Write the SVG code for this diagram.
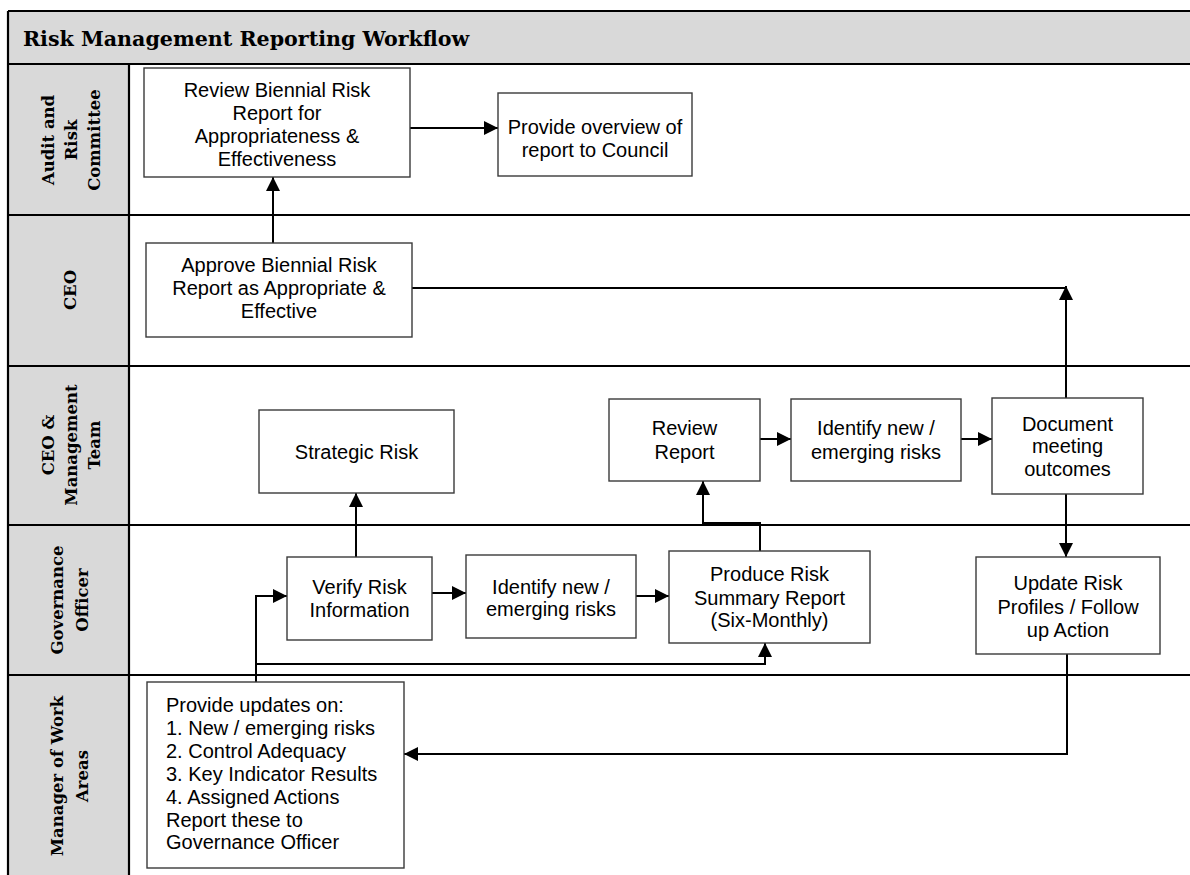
<svg xmlns="http://www.w3.org/2000/svg" width="1190" height="875" viewBox="0 0 1190 875">
<defs>
<style>
.lane{stroke:#000;stroke-width:2.2;fill:none}
.hdr{fill:#d9d9d9}
.lbl{font-family:"DejaVu Serif","Liberation Serif",serif;font-weight:bold;font-size:16.5px;fill:#000;text-anchor:middle}
.title{font-family:"DejaVu Serif","Liberation Serif",serif;font-weight:bold;font-size:20.6px;fill:#000}
.box{fill:#fff;stroke:#3a3a3a;stroke-width:1.4}
.t{font-family:"Liberation Sans",Arial,sans-serif;font-size:20px;fill:#000;text-anchor:middle}
.tl{font-family:"Liberation Sans",Arial,sans-serif;font-size:20px;fill:#000}
.c{stroke:#000;stroke-width:2;fill:none}
.ca{stroke:#000;stroke-width:2;fill:none;marker-end:url(#ah)}
</style>
<marker id="ah" markerUnits="userSpaceOnUse" markerWidth="15" markerHeight="15" refX="14" refY="7" orient="auto">
<path d="M0,0 L14,7 L0,14 z" fill="#000"/>
</marker>
</defs>

<g id="frame">
<rect class="hdr" x="8" y="11" width="1182" height="53"/>
<rect class="hdr" x="8" y="64" width="121" height="811"/>
<text class="title" x="23" y="46">Risk Management Reporting Workflow</text>
<path class="lane" d="M8,11 H1190 M8,64 H1190 M8,215 H1190 M8,366 H1190 M8,525 H1190 M8,675 H1190 M8,11 V875 M129,64 V875"/>
</g>

<g id="lane-audit">
<g transform="translate(68,140) rotate(-90)">
<text class="lbl" x="0" y="-14">Audit and</text>
<text class="lbl" x="0" y="9">Risk</text>
<text class="lbl" x="0" y="32">Committee</text>
</g>
</g>
<g id="lane-ceo">
<g transform="translate(68,290) rotate(-90)">
<text class="lbl" x="0" y="8">CEO</text>
</g>
</g>
<g id="lane-mgmt">
<g transform="translate(68,445) rotate(-90)">
<text class="lbl" x="0" y="-14">CEO &amp;</text>
<text class="lbl" x="0" y="9">Management</text>
<text class="lbl" x="0" y="32">Team</text>
</g>
</g>
<g id="lane-gov">
<g transform="translate(68,600) rotate(-90)">
<text class="lbl" x="0" y="-5">Governance</text>
<text class="lbl" x="0" y="20">Officer</text>
</g>
</g>
<g id="lane-mgr">
<g transform="translate(68,776) rotate(-90)">
<text class="lbl" x="0" y="-5">Manager of Work</text>
<text class="lbl" x="0" y="20">Areas</text>
</g>
</g>

<g id="connectors">
<path class="ca" d="M410,128 H498"/>
<path class="ca" d="M273,243 V177"/>
<path class="c" d="M412,288 H1066"/>
<path class="ca" d="M1066,398 V286"/>
<path class="ca" d="M1066,494 V557"/>
<path class="ca" d="M1067,654 V754 H404"/>
<path class="ca" d="M356,557 V493"/>
<path class="ca" d="M760,551 V523 H703 V481"/>
<path class="ca" d="M760,439 H791"/>
<path class="ca" d="M961,439 H992"/>
<path class="ca" d="M256,682 V596 H287"/>
<path class="ca" d="M256,664 H765 V643"/>
<path class="ca" d="M432,593 H466"/>
<path class="ca" d="M636,596 H669"/>
</g>

<g id="n-review-biennial">
<rect class="box" x="144" y="68" width="266" height="109"/>
<text class="t" x="277" y="97">Review Biennial Risk</text>
<text class="t" x="277" y="120">Report for</text>
<text class="t" x="277" y="143">Appropriateness &amp;</text>
<text class="t" x="277" y="166">Effectiveness</text>
</g>
<g id="n-overview">
<rect class="box" x="498" y="93" width="194" height="83"/>
<text class="t" x="595" y="134">Provide overview of</text>
<text class="t" x="595" y="157">report to Council</text>
</g>
<g id="n-approve">
<rect class="box" x="146" y="243" width="266" height="94"/>
<text class="t" x="279" y="272">Approve Biennial Risk</text>
<text class="t" x="279" y="295">Report as Appropriate &amp;</text>
<text class="t" x="279" y="318">Effective</text>
</g>
<g id="n-strategic">
<rect class="box" x="259" y="410" width="195" height="83"/>
<text class="t" x="356.5" y="459">Strategic Risk</text>
</g>
<g id="n-review-report">
<rect class="box" x="609" y="399" width="151" height="82"/>
<text class="t" x="684.5" y="435">Review</text>
<text class="t" x="684.5" y="458.5">Report</text>
</g>
<g id="n-identify-top">
<rect class="box" x="791" y="399" width="170" height="82"/>
<text class="t" x="876" y="435">Identify new /</text>
<text class="t" x="876" y="458.5">emerging risks</text>
</g>
<g id="n-document">
<rect class="box" x="992" y="398" width="151" height="96"/>
<text class="t" x="1067.5" y="430.5">Document</text>
<text class="t" x="1067.5" y="453">meeting</text>
<text class="t" x="1067.5" y="475.5">outcomes</text>
</g>
<g id="n-verify">
<rect class="box" x="287" y="557" width="145" height="83"/>
<text class="t" x="359.5" y="594">Verify Risk</text>
<text class="t" x="359.5" y="617">Information</text>
</g>
<g id="n-identify-bottom">
<rect class="box" x="466" y="555" width="170" height="83"/>
<text class="t" x="551" y="593.5">Identify new /</text>
<text class="t" x="551" y="615.5">emerging risks</text>
</g>
<g id="n-produce">
<rect class="box" x="669" y="551" width="201" height="92"/>
<text class="t" x="769.5" y="581">Produce Risk</text>
<text class="t" x="769.5" y="604.5">Summary Report</text>
<text class="t" x="769.5" y="627">(Six-Monthly)</text>
</g>
<g id="n-update">
<rect class="box" x="976" y="557" width="184" height="97"/>
<text class="t" x="1068" y="590">Update Risk</text>
<text class="t" x="1068" y="613.5">Profiles / Follow</text>
<text class="t" x="1068" y="636.5">up Action</text>
</g>
<g id="n-provide-updates">
<rect class="box" x="147" y="682" width="257" height="186"/>
<text class="tl" x="166" y="711.5">Provide updates on:</text>
<text class="tl" x="166" y="734.5">1. New / emerging risks</text>
<text class="tl" x="166" y="757.5">2. Control Adequacy</text>
<text class="tl" x="166" y="780.5">3. Key Indicator Results</text>
<text class="tl" x="166" y="803.5">4. Assigned Actions</text>
<text class="tl" x="166" y="826.5">Report these to</text>
<text class="tl" x="166" y="849">Governance Officer</text>
</g>
</svg>
